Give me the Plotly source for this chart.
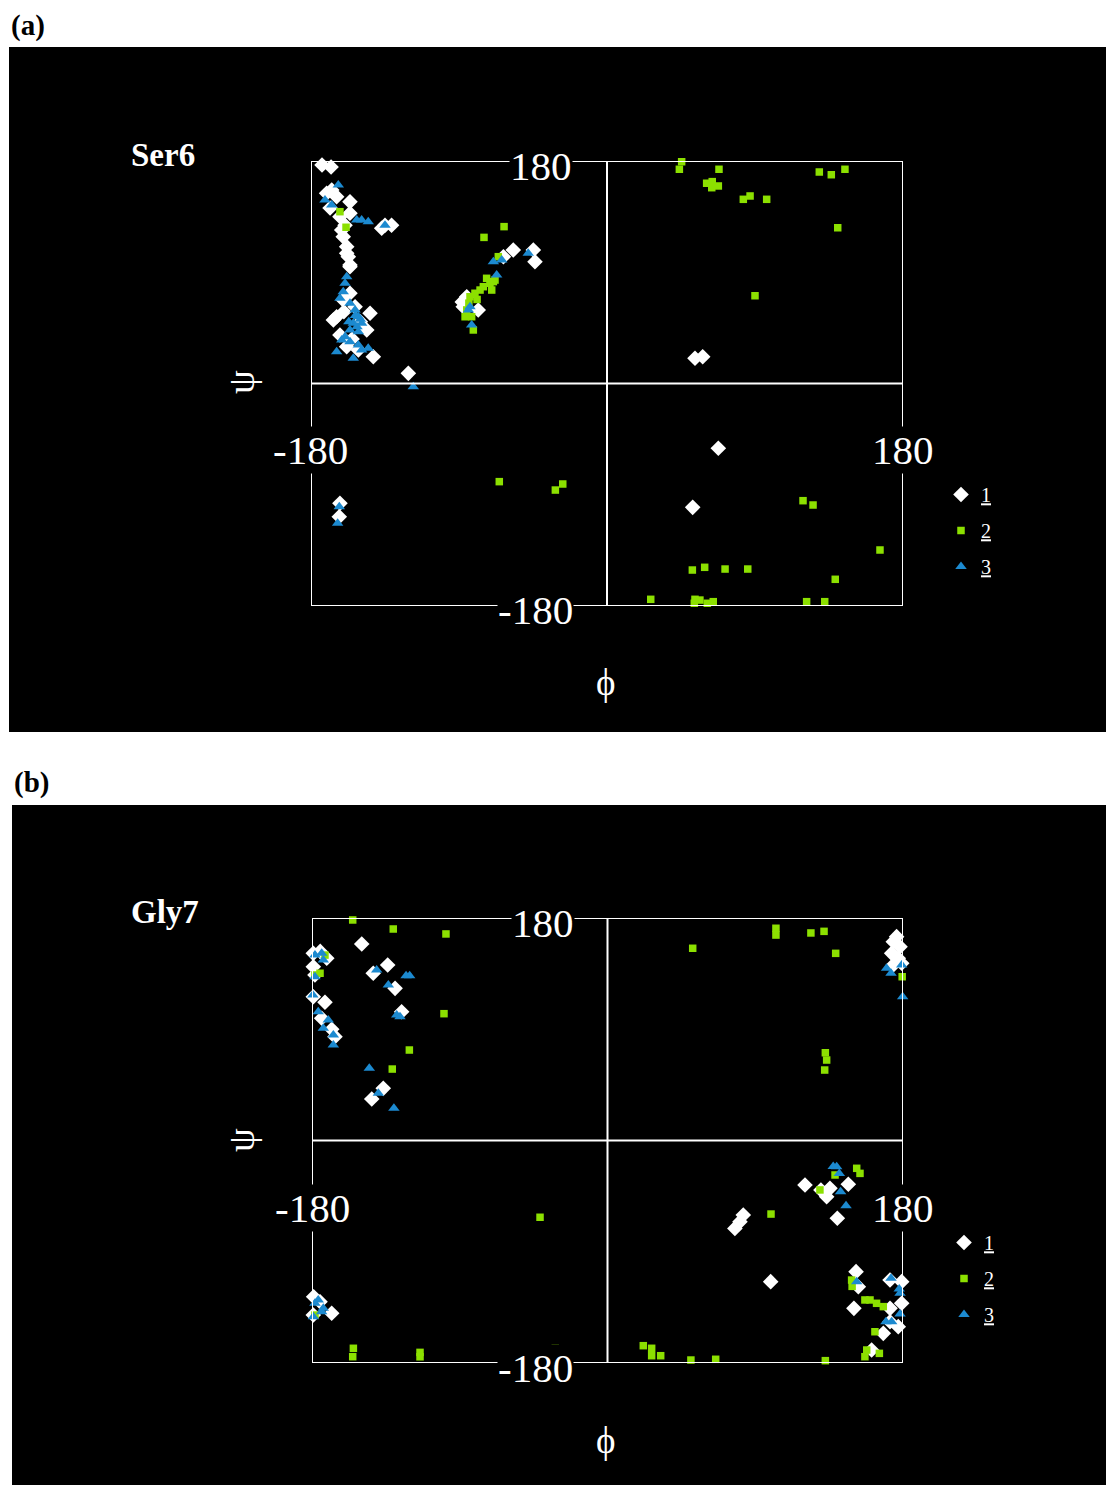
import plotly.graph_objects as go

W, H = 1106, 1485
OFF = 0  # page body margin removed via post_script

# ---------------- data (phi, psi in degrees) ----------------
ser6_phi_1 = [-173.3, -167.8, -167.4, -168.4, -156.3, -162.4, -159.3, -160.4, -158.3, -158.3, -156.3,
              -135.0, -131.0, -137.0, -170.5, -164.4, -156.3, -161.3, -157.3, -156.3,
              -164.4, -160.4, -156.3, -144.1, -146.1, -162.4, -158.3, -151.2, -142.1, -153.2, -166.4,
              -160.0, -150.0, -155.0, -120.8,
              -85.3, -87.4, -78.3, -57.0, -63.0, -44.8, -43.8, -88.0,
              53.5, 58.2, -162.4, -162.8, 67.7, 52.1]
ser6_psi_1 = [176.8, 175.1, 156.5, 142.0, 147.0, 135.0, 128.0, 118.8, 110.7, 105.3, 95.9,
              128.0, 128.0, 125.6, 153.9, 151.1, 137.7, 124.2, 102.6, 94.5,
              54.0, 67.5, 73.0, 56.8, 43.3, 39.2, 29.8, 27.1, 21.7, 62.1, 51.4,
              58.0, 50.0, 36.0, 8.2,
              70.2, 62.1, 59.5, 108.0, 102.6, 108.0, 98.5, 66.0,
              20.4, 21.7, -96.9, -107.8, -52.4, -100.2]

ser6_phi_2 = [-162.4, -158.7, -74.8, -62.6, -66.1, -73.2, -71.2, -69.1, -75.2, -77.2, -80.3, -83.3,
              -85.3, -82.3, -81.3, -70.1, -68.1, -86.3, -84.0, -79.0,
              45.4, 44.0, 68.1, 60.6, 64.0, 67.7, 63.7, 82.9, 87.0, 97.1, 129.1, 136.4, 144.7, 140.3, 90.0,
              -65.5, -26.9, -31.4,
              119.2, 125.3, 166.0, 51.9, 59.4, 71.8, 85.6, 138.8, 26.6, 53.5, 56.5, 53.1, 61.0, 64.6,
              121.4, 132.4]
ser6_psi_2 = [139.0, 126.4, 118.2, 126.9, 102.6, 85.1, 81.1, 82.4, 78.3, 75.6, 73.0, 70.2,
              59.5, 54.0, 43.3, 75.6, 83.7, 54.0, 65.0, 68.0,
              179.4, 173.3, 173.3, 162.0, 163.3, 159.8, 158.4, 149.0, 151.7, 149.0, 171.1, 168.9, 173.3, 126.0, 71.0,
              -79.4, -81.3, -86.2,
              -94.8, -98.3, -134.7, -150.9, -148.7, -150.1, -150.1, -158.4, -174.6, -174.6, -175.2, -177.8,
              -177.8, -176.5, -176.5, -176.5]

ser6_phi_3 = [-163.4, -171.5, -167.4, -152.2, -149.2, -145.2, -135.0, -158.3, -159.3, -160.4, -162.4,
              -156.3, -153.2, -151.2, -154.3, -149.2, -156.3, -151.2, -159.3, -161.3, -156.3, -151.2,
              -164.4, -154.3, -145.2, -149.2, -117.8, -69.1, -64.0, -67.1, -83.3, -84.3, -82.3, -47.9,
              -162.8, -163.8, -153.0, -150.0, -157.0, -152.0]
ser6_psi_3 = [160.6, 148.4, 144.4, 132.3, 132.3, 130.9, 128.0, 86.4, 81.1, 74.3, 68.9,
              64.9, 59.5, 54.0, 48.7, 48.7, 43.3, 41.9, 37.9, 35.2, 33.8, 31.1,
              25.7, 20.4, 28.5, 27.1, -2.6, 98.5, 99.9, 87.8, 62.1, 59.5, 47.3, 105.3,
              -99.7, -113.1, 55.0, 52.0, 50.0, 46.0]

gly7_phi_1 = [-149.7, -179.2, -171.0, -179.2, -178.2, -142.7, -133.9, -129.4, -125.4, -179.2, -172.1,
              -174.1, -166.0, -136.6, -143.6, -175.0, -168.0,
              -179.0, -179.2, -168.0, -175.1,
              176.1, 174.1, 178.2, 173.1, 177.1, 174.1, 179.2,
              120.3, 135.5, 133.5, 146.7, 140.0, 82.7, 77.6, 80.7, 99.4, 151.4, 152.8, 150.1, 172.1,
              179.2, 179.2, 177.1, 168.0, 172.1, 160.9, 172.1, 130.0]
gly7_psi_1 = [159.0, 151.4, 147.4, 140.6, 133.9, 135.3, 142.0, 123.1, 104.2, 116.3, 111.8,
              98.9, 84.0, 42.2, 33.6, 153.0, 90.0,
              -126.4, -141.2, -139.8, -130.4,
              164.9, 160.8, 156.8, 151.4, 147.4, 142.0, 143.4,
              -36.0, -38.7, -45.5, -35.4, -62.9, -60.3, -71.1, -65.7, -114.2, -106.1, -118.3, -135.8, -112.9,
              -114.2, -131.7, -150.6, -156.0, -146.6, -169.5, -135.8, -40.0]

gly7_phi_2 = [-155.2, -130.5, -98.4, -23.6, -99.6, -120.7, -131.1, -178.2, -175.1, -172.1,
              102.6, 102.6, 51.9, 123.9, 131.9, 139.0, 179.5, 132.7, 133.5, 132.3,
              -41.1, -154.8, -155.2, -114.2, -114.2, -31.8, -30.6, -178.2,
              151.8, 153.8, 138.6, 129.4, 99.6, 148.7, 156.8, 159.9, 163.9, 168.0, 162.9, 157.9, 156.8,
              165.6, 21.8, 26.9, 26.9, 32.4, 50.8, 65.9, 132.7, 149.0]
gly7_psi_2 = [178.4, 171.1, 167.1, 172.2, 102.6, 73.2, 57.8, 133.9, 135.3, 150.0,
              171.7, 166.2, 155.5, 167.9, 169.2, 151.4, 132.5, 71.0, 65.1, 57.0,
              -62.1, -168.1, -174.9, -171.4, -175.0, -168.1, -176.8, -141.2,
              -22.5, -26.6, -27.9, -40.0, -59.5, -112.9, -129.0, -129.0, -131.7, -134.4, -154.7, -169.5, -174.9,
              -172.2, -166.0, -168.1, -174.1, -174.1, -177.6, -177.0, -178.1, -118.0]

gly7_phi_3 = [-178.2, -174.1, -173.1, -178.2, -140.6, -122.7, -120.5, -133.5, -128.4, -126.4, -179.5,
              -176.2, -170.1, -173.1, -167.0, -167.0, -145.1, -139.6, -130.1,
              170.0, 172.7, 179.2, 179.8,
              -176.2, -173.1, -178.2, -179.2, -174.1,
              139.6, 141.2, 142.0, 145.3, 151.8, 172.7, 177.7, 178.2, 178.2, 169.6, 173.1, 137.5]
gly7_psi_3 = [150.0, 151.4, 146.0, 132.5, 137.9, 133.3, 133.3, 125.8, 101.5, 100.2, 117.7,
              104.2, 97.5, 90.8, 85.3, 77.3, 58.4, 38.2, 26.0,
              139.3, 135.3, 142.0, 116.3,
              -129.0, -135.7, -131.7, -142.5, -138.5,
              -21.2, -26.6, -41.4, -52.7, -114.2, -111.5, -120.1, -123.6, -140.4, -146.6, -146.6, -21.0]

series_names = ["<u>1</u>", "<u>2</u>", "<u>3</u>"]
panel_names = ["Ser6", "Gly7"]
panel_tags = ["(a)", "(b)"]
axis_tick_text = ["180", "-180"]

WHITE = "#ffffff"
GREEN = "#8ce000"
BLUE = "#1c8ad0"
SERIF = "Liberation Serif"


def pxx(x):
    return (x - OFF) / W


def pxy(y):
    return 1 - (y - OFF) / H


fig = go.Figure()

panels = [
    (ser6_phi_1, ser6_psi_1, ser6_phi_2, ser6_psi_2, ser6_phi_3, ser6_psi_3),
    (gly7_phi_1, gly7_psi_1, gly7_phi_2, gly7_psi_2, gly7_phi_3, gly7_psi_3),
]
styles = [
    dict(symbol="diamond", size=12, color=WHITE),
    dict(symbol="square", size=7.5, color=GREEN),
    dict(symbol="triangle-up", size=10, color=BLUE),
]

for p, data in enumerate(panels):
    xa = "x" if p == 0 else "x2"
    ya = "y" if p == 0 else "y2"
    lg = "legend" if p == 0 else "legend2"
    for s in range(3):
        fig.add_trace(go.Scatter(
            x=data[2 * s], y=data[2 * s + 1], mode="markers",
            marker=dict(symbol=styles[s]["symbol"], size=styles[s]["size"],
                        color=styles[s]["color"], line=dict(width=0)),
            name=series_names[s], legendgroup=f"p{p}s{s}", legend=lg,
            xaxis=xa, yaxis=ya, cliponaxis=False, showlegend=True,
        ))

# panel geometry (page pixels)
geo = [
    dict(bg=(9, 47, 1106, 732), box=(311, 161, 903, 606), top=(541, 166), left=(310, 450),
         right=(903, 450), bottom=(535, 610), name=(163, 155), tag=(28, 25), phi=(605, 683),
         psi=(241, 382), legend=(941, 475)),
    dict(bg=(12, 805, 1106, 1485), box=(312, 918, 903, 1363), top=(543, 923), left=(312, 1208),
         right=(903, 1208), bottom=(535, 1368), name=(165, 912), tag=(31, 782), phi=(605, 1440),
         psi=(241, 1140), legend=(944, 1223)),
]

shapes = []
annotations = []
for p, g in enumerate(geo):
    x0, y0, x1, y1 = g["bg"]
    shapes.append(dict(type="rect", xref="paper", yref="paper", x0=pxx(x0), x1=pxx(x1),
                       y0=pxy(y1), y1=pxy(y0), fillcolor="black", line=dict(width=0), layer="below"))
    xr = "x" if p == 0 else "x2"
    yr = "y" if p == 0 else "y2"
    line = dict(color=WHITE, width=2)
    shapes.append(dict(type="rect", xref=xr, yref=yr, x0=-180, x1=180, y0=-180, y1=180, line=line))
    shapes.append(dict(type="line", xref=xr, yref=yr, x0=0, x1=0, y0=-180, y1=180, line=line))
    shapes.append(dict(type="line", xref=xr, yref=yr, x0=-180, x1=180, y0=0, y1=0, line=line))

    for key, txt in (("top", axis_tick_text[0]), ("left", axis_tick_text[1]),
                     ("right", axis_tick_text[0]), ("bottom", axis_tick_text[1])):
        ax_, ay_ = g[key]
        annotations.append(dict(x=pxx(ax_), y=pxy(ay_), xref="paper", yref="paper", text=txt,
                                showarrow=False, xanchor="center", yanchor="middle",
                                font=dict(family=SERIF, size=41, color=WHITE),
                                bgcolor="black", borderpad=0))
    annotations.append(dict(x=pxx(g["name"][0]), y=pxy(g["name"][1]), xref="paper", yref="paper",
                            text=f"<b>{panel_names[p]}</b>", showarrow=False,
                            xanchor="center", yanchor="middle",
                            font=dict(family=SERIF, size=33, color=WHITE)))
    annotations.append(dict(x=pxx(g["tag"][0]), y=pxy(g["tag"][1]), xref="paper", yref="paper",
                            text=f"<b>{panel_tags[p]}</b>", showarrow=False,
                            xanchor="center", yanchor="middle",
                            font=dict(family=SERIF, size=29, color="black")))
    annotations.append(dict(x=pxx(g["phi"][0]), y=pxy(g["phi"][1]), xref="paper", yref="paper",
                            text="ϕ", showarrow=False, xanchor="center", yanchor="middle",
                            font=dict(family=SERIF, size=37, color=WHITE)))
    annotations.append(dict(x=pxx(g["psi"][0]), y=pxy(g["psi"][1]), xref="paper", yref="paper",
                            text="ψ", showarrow=False, xanchor="center", yanchor="middle",
                            textangle=-90,
                            font=dict(family=SERIF, size=38, color=WHITE)))

ax_common = dict(range=[-180, 180], showgrid=False, zeroline=False, showticklabels=False,
                 ticks="", showline=False, fixedrange=True)

legend_common = dict(bgcolor="rgba(0,0,0,0)", borderwidth=0, traceorder="grouped",
                     tracegroupgap=7, font=dict(family=SERIF, size=20, color=WHITE),
                     xanchor="left", yanchor="top", itemwidth=30)

b0, b1 = geo[0]["box"], geo[1]["box"]
fig.update_layout(
    width=W, height=H,
    margin=dict(l=0, r=0, t=0, b=0),
    paper_bgcolor="white", plot_bgcolor="rgba(0,0,0,0)",
    xaxis=dict(domain=[pxx(b0[0]), pxx(b0[2])], anchor="y", **ax_common),
    yaxis=dict(domain=[pxy(b0[3]), pxy(b0[1])], anchor="x", **ax_common),
    xaxis2=dict(domain=[pxx(b1[0]), pxx(b1[2])], anchor="y2", **ax_common),
    yaxis2=dict(domain=[pxy(b1[3]), pxy(b1[1])], anchor="x2", **ax_common),
    shapes=shapes, annotations=annotations,
    legend=dict(x=pxx(geo[0]["legend"][0]), y=pxy(geo[0]["legend"][1]), **legend_common),
    legend2=dict(x=pxx(geo[1]["legend"][0]), y=pxy(geo[1]["legend"][1]), **legend_common),
    showlegend=True,
)

fig.write_html("out.html", config={"displayModeBar": False},
               post_script="document.body.style.margin='0';document.body.style.overflow='hidden';")
